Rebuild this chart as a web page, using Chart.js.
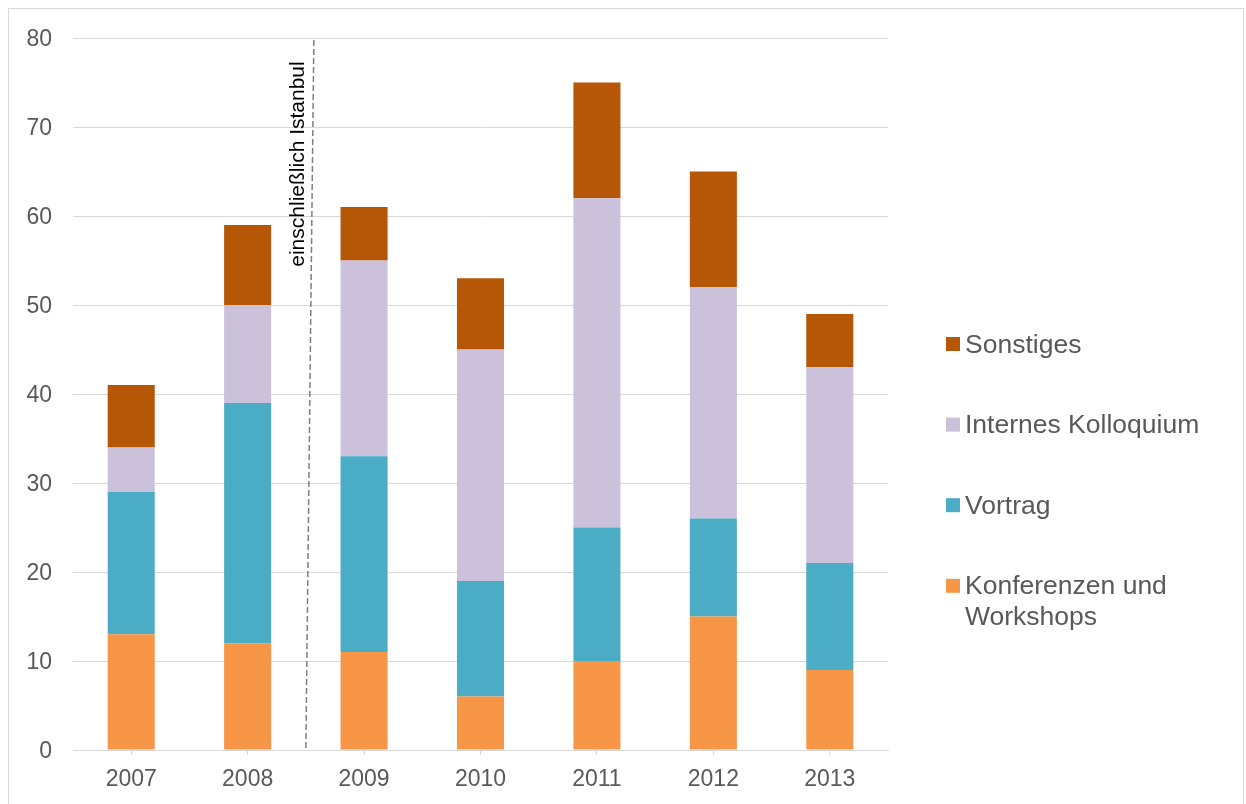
<!DOCTYPE html>
<html>
<head>
<meta charset="utf-8">
<script src="https://cdn.jsdelivr.net/npm/chart.js@4.4.1/dist/chart.umd.min.js"></script>
<style>
  body { margin: 0; background: #fff; overflow: hidden; }
  #wrap { position: relative; width: 1246px; height: 804px; }
  #frame { position: absolute; left: 8px; top: 8px; width: 1234px; height: 900px; border: 1px solid #d9d9d9; pointer-events: none; }
</style>
</head>
<body>
<div id="wrap">
  <canvas id="chart"></canvas>
  <div id="frame"></div>
</div>
<script>
// Jahre
var years = ["2007", "2008", "2009", "2010", "2011", "2012", "2013"];
// Werte pro Kategorie (von unten nach oben gestapelt)
var konferenzen = [13, 12, 11, 6, 10, 15, 9];
var vortrag = [16, 27, 22, 13, 15, 11, 12];
var kolloquium = [5, 11, 22, 26, 37, 26, 22];
var sonstiges = [7, 9, 6, 8, 13, 13, 6];
var yTicks = [0, 10, 20, 30, 40, 50, 60, 70, 80];
var noteText = "einschließlich Istanbul";

var FONT = '"Liberation Sans", Arial, sans-serif';
var GREY = "#595959";

// gestrichelte Linie zwischen 2008 und 2009 + Text
var dividerPlugin = {
  id: "divider",
  afterDatasetsDraw: function (chart) {
    var ctx = chart.ctx;
    var x = chart.scales.x;
    var y = chart.scales.y;
    var xb = (x.getPixelForValue(1) + x.getPixelForValue(2)) / 2;
    ctx.save();
    ctx.strokeStyle = "#7f7f7f";
    ctx.lineWidth = 1.5;
    ctx.setLineDash([6, 3]);
    ctx.beginPath();
    ctx.moveTo(xb + 8, y.getPixelForValue(80) + 2);
    ctx.lineTo(xb, y.getPixelForValue(0));
    ctx.stroke();
    ctx.setLineDash([]);
    ctx.translate(xb - 2, y.getPixelForValue(54.3));
    ctx.rotate(-Math.PI / 2);
    ctx.fillStyle = "#000";
    ctx.font = "21px " + FONT;
    ctx.textBaseline = "alphabetic";
    ctx.textAlign = "left";
    ctx.fillText(noteText, 0, 0);
    ctx.restore();
  }
};

// Legende rechts (umgekehrte Reihenfolge)
var legendPlugin = {
  id: "sideLegend",
  afterDraw: function (chart) {
    var ctx = chart.ctx;
    var area = chart.chartArea;
    var ds = chart.data.datasets;
    var left = area.right + 58;
    var base = 352.5;
    ctx.save();
    ctx.font = "26.5px " + FONT;
    ctx.textBaseline = "alphabetic";
    ctx.textAlign = "left";
    for (var i = ds.length - 1, n = 0; i >= 0; i--, n++) {
      var by = base + n * 80.6;
      ctx.fillStyle = ds[i].backgroundColor;
      ctx.fillRect(left, by - 15.5, 14, 14);
      ctx.fillStyle = GREY;
      var lines = [].concat(ds[i].legendText || ds[i].label);
      for (var k = 0; k < lines.length; k++) {
        ctx.fillText(lines[k], left + 19, by + k * 31);
      }
    }
    ctx.restore();
  }
};

var ctx = document.getElementById("chart").getContext("2d");
var myChart = new Chart(ctx, {
  type: "bar",
  data: {
    labels: years,
    datasets: [
      { label: "Konferenzen und Workshops", legendText: ["Konferenzen und", "Workshops"], data: konferenzen, backgroundColor: "#F79646" },
      { label: "Vortrag", data: vortrag, backgroundColor: "#4BACC6" },
      { label: "Internes Kolloquium", data: kolloquium, backgroundColor: "#CCC1DA" },
      { label: "Sonstiges", data: sonstiges, backgroundColor: "#B65708" }
    ]
  },
  options: {
    responsive: true,
    maintainAspectRatio: false,
    animation: false,
    barPercentage: 0.404,
    categoryPercentage: 1.0,
    layout: { padding: { left: 0, right: 358, top: 38, bottom: 0 } },
    plugins: {
      legend: { display: false },
      tooltip: { enabled: false }
    },
    scales: {
      x: {
        stacked: true,
        afterFit: function (s) { s.height = 54; },
        grid: { offset: false, drawOnChartArea: false, tickLength: 5, color: "#d9d9d9" },
        border: { display: true, color: "#d9d9d9", width: 1 },
        ticks: { color: GREY, font: { family: FONT, size: 23 }, padding: 11, maxRotation: 0 }
      },
      y: {
        stacked: true,
        min: 0,
        max: 80,
        afterFit: function (s) { s.width = 73; },
        afterBuildTicks: function (s) { s.ticks = yTicks.map(function (v) { return { value: v }; }); },
        grid: { color: "#d9d9d9", drawTicks: false, lineWidth: 1 },
        border: { display: false },
        ticks: { color: GREY, font: { family: FONT, size: 23 }, padding: 21, labelOffset: 2 }
      }
    }
  },
  plugins: [dividerPlugin, legendPlugin]
});
</script>
</body>
</html>
